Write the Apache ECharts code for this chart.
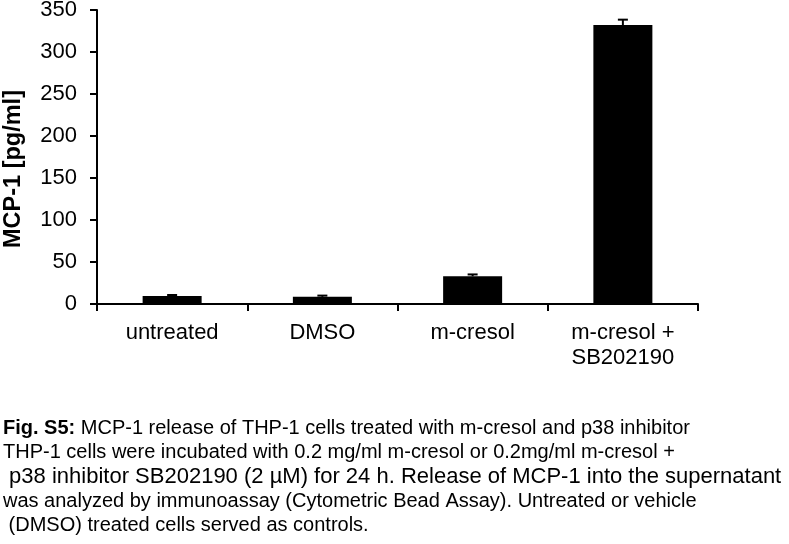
<!DOCTYPE html>
<html>
<head>
<meta charset="utf-8">
<script src="https://cdn.jsdelivr.net/npm/echarts@6/dist/echarts.min.js"></script>
<style>
  html, body { margin: 0; padding: 0; background: #fff; }
  #chart { width: 789px; height: 544px; }
</style>
</head>
<body>
<div id="chart"></div>
<script>
// data
const categories = ['untreated', 'DMSO', 'm-cresol', 'm-cresol +\nSB202190']
const means = [9.5, 8.5, 33, 332]
const errors = [1.2, 1.5, 2.2, 6.5]
const yTicks = [0, 50, 100, 150, 200, 250, 300, 350]

const captionLines = [
  '{b|Fig. S5:} MCP-1 release of THP-1 cells treated with m-cresol and p38 inhibitor',
  'THP-1 cells were incubated with 0.2 mg/ml m-cresol or 0.2mg/ml m-cresol +',
  '{w| p38 inhibitor SB202190 (2 µM) for 24 h. Release of MCP-1 into the supernatant}',
  'was analyzed by immunoassay (Cytometric Bead Assay). Untreated or vehicle',
  ' (DMSO) treated cells served as controls.'
]

const font = 'Liberation Sans, Arial, sans-serif'
const myChart = echarts.init(document.getElementById('chart'))

const option = {
  animation: false,
  grid: { left: 97, right: 91, top: 10, bottom: 240, outerBoundsMode: 'none', containLabel: false },
  xAxis: {
    type: 'category',
    data: categories,
    axisLine: { lineStyle: { color: '#000', width: 2 } },
    axisTick: { show: true, length: 7, lineStyle: { color: '#000', width: 2 } },
    axisLabel: {
      color: '#000', fontSize: 22, fontFamily: font, margin: 16, lineHeight: 25
    }
  },
  yAxis: {
    type: 'value',
    min: yTicks[0],
    max: yTicks[yTicks.length - 1],
    interval: 50,
    name: 'MCP-1 [pg/ml]',
    nameLocation: 'middle',
    nameRotate: 90,
    nameGap: 71,
    nameTextStyle: {
      color: '#000', fontSize: 23.5, fontWeight: 'bold', fontFamily: font,
      padding: [0, 24, 0, 0]
    },
    splitLine: { show: false },
    axisLine: { show: true, lineStyle: { color: '#000', width: 2 } },
    axisTick: { show: true, length: 7, lineStyle: { color: '#000', width: 2 } },
    axisLabel: { color: '#000', fontSize: 22, fontFamily: font, margin: 20 }
  },
  series: [
    {
      type: 'bar',
      data: means,
      barWidth: 59,
      itemStyle: { color: '#000' }
    },
    {
      type: 'custom',
      data: means.map((m, i) => [i, m, m + errors[i]]),
      z: 5,
      renderItem (params, api) {
        const lo = api.coord([api.value(0), api.value(1)])
        const hi = api.coord([api.value(0), api.value(2)])
        const w = 5
        const style = { stroke: '#000', lineWidth: 2 }
        return {
          type: 'group',
          children: [
            { type: 'line', shape: { x1: hi[0], y1: lo[1], x2: hi[0], y2: hi[1] }, style },
            { type: 'line', shape: { x1: hi[0] - w, y1: hi[1], x2: hi[0] + w, y2: hi[1] }, style }
          ]
        }
      }
    }
  ],
  graphic: [
    {
      type: 'text',
      left: 3,
      top: 416,
      style: {
        text: captionLines.join('\n'),
        fill: '#000',
        font: '20px ' + font,
        lineHeight: 24.4,
        rich: {
          b: { fontWeight: 'bold', fontSize: 20, fontFamily: font, fill: '#000', lineHeight: 24.4 },
          w: { fontSize: 22, fontFamily: font, fill: '#000', lineHeight: 24.4 }
        }
      }
    }
  ]
}
myChart.setOption(option, true)
</script>
</body>
</html>
